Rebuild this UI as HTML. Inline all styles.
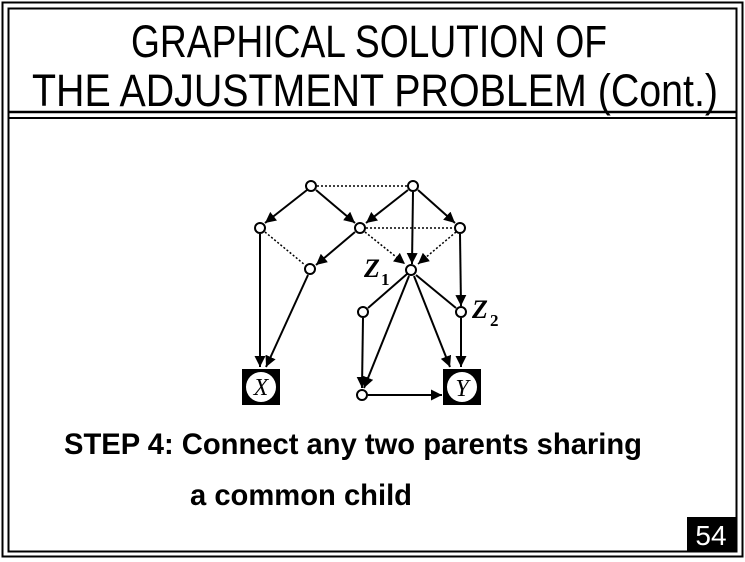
<!DOCTYPE html>
<html><head><meta charset="utf-8"><style>
html,body{margin:0;padding:0;background:#fff;}
svg{display:block;}
</style></head><body>
<svg width="745" height="562" viewBox="0 0 745 562" xmlns="http://www.w3.org/2000/svg">
<defs>
<marker id="ah" viewBox="0 0 10 10" refX="10" refY="5" markerWidth="11" markerHeight="11" markerUnits="userSpaceOnUse" orient="auto">
<path d="M0,0 L10,5 L0,10 z" fill="#000"/></marker>
</defs>
<rect x="0" y="0" width="745" height="562" fill="#fff"/>
<rect x="2.5" y="2.5" width="740" height="554" fill="none" stroke="#000" stroke-width="2"/>
<rect x="8.5" y="8.5" width="728" height="543" fill="none" stroke="#000" stroke-width="2"/>
<line x1="8" y1="112" x2="737" y2="112" stroke="#000" stroke-width="2.5"/>
<line x1="8" y1="118" x2="737" y2="118" stroke="#000" stroke-width="2"/>
<g font-family="Liberation Sans, Arial, sans-serif" font-size="45" fill="#000">
<text x="131" y="57" textLength="476" lengthAdjust="spacingAndGlyphs">GRAPHICAL SOLUTION OF</text>
<text x="32" y="106" textLength="686" lengthAdjust="spacingAndGlyphs">THE ADJUSTMENT PROBLEM (Cont.)</text>
</g>
<g stroke="#000" stroke-width="2" fill="none">
<line x1="307" y1="190" x2="265" y2="223" marker-end="url(#ah)"/>
<line x1="316" y1="190" x2="355" y2="223" marker-end="url(#ah)"/>
<line x1="408" y1="190" x2="366" y2="223" marker-end="url(#ah)"/>
<line x1="413" y1="192" x2="412" y2="264" marker-end="url(#ah)"/>
<line x1="418" y1="190" x2="455" y2="223" marker-end="url(#ah)"/>
<line x1="355" y1="232" x2="316" y2="265" marker-end="url(#ah)"/>
<line x1="260" y1="234" x2="260" y2="367" marker-end="url(#ah)"/>
<line x1="308" y1="275" x2="266" y2="367" marker-end="url(#ah)"/>
<line x1="460" y1="234" x2="461" y2="306" marker-end="url(#ah)"/>
<line x1="416" y1="275" x2="456" y2="308"/>
<line x1="407" y1="274" x2="368" y2="308"/>
<line x1="409" y1="276" x2="364" y2="388" marker-end="url(#ah)"/>
<line x1="414" y1="276" x2="450" y2="367" marker-end="url(#ah)"/>
<line x1="363" y1="318" x2="362" y2="388" marker-end="url(#ah)"/>
<line x1="461" y1="318" x2="461" y2="367" marker-end="url(#ah)"/>
<line x1="368" y1="395" x2="442" y2="395" marker-end="url(#ah)"/>
</g>
<g stroke="#000" stroke-width="1.5" fill="none" stroke-dasharray="2,2">
<line x1="317" y1="186" x2="407" y2="186"/>
<line x1="366" y1="228" x2="454" y2="228"/>
<line x1="265" y1="232" x2="305" y2="265"/>
<line x1="365" y1="232" x2="405" y2="264" marker-end="url(#ah)"/>
<line x1="456" y1="232" x2="418" y2="264" marker-end="url(#ah)"/>
</g>
<g fill="#fff" stroke="#000" stroke-width="2">
<circle cx="311" cy="186" r="5"/>
<circle cx="413" cy="186" r="5"/>
<circle cx="260" cy="228" r="5"/>
<circle cx="360" cy="228" r="5"/>
<circle cx="460" cy="228" r="5"/>
<circle cx="310" cy="269" r="5"/>
<circle cx="411" cy="270" r="5"/>
<circle cx="363" cy="312" r="5"/>
<circle cx="461" cy="312" r="5"/>
<circle cx="362" cy="395" r="5"/>
</g>
<rect x="242" y="369" width="38" height="36" fill="#000"/>
<circle cx="261" cy="387" r="15" fill="#fff"/>
<rect x="443" y="369" width="38" height="36" fill="#000"/>
<circle cx="462" cy="387" r="15" fill="#fff"/>
<g font-family="Liberation Serif, serif" font-style="italic" fill="#000">
<text x="261" y="395" font-size="24" text-anchor="middle">X</text>
<text x="462" y="396" font-size="24" text-anchor="middle">Y</text>
<text x="364" y="277" font-size="26" font-weight="bold">Z</text>
<text x="381" y="285" font-size="17" font-style="normal" font-weight="bold">1</text>
<text x="472" y="318" font-size="26" font-weight="bold">Z</text>
<text x="490" y="326" font-size="17" font-style="normal" font-weight="bold">2</text>
</g>
<g font-family="Liberation Sans, Arial, sans-serif" font-weight="bold" font-size="30" fill="#000">
<text x="64" y="454" textLength="578" lengthAdjust="spacingAndGlyphs">STEP 4:  Connect any two parents sharing</text>
<text x="190" y="505" textLength="222" lengthAdjust="spacingAndGlyphs">a common child</text>
</g>
<rect x="687" y="517" width="49" height="34" fill="#000"/>
<text x="711" y="545" font-family="Liberation Sans, Arial, sans-serif" font-size="28" fill="#fff" text-anchor="middle">54</text>
</svg>
</body></html>
